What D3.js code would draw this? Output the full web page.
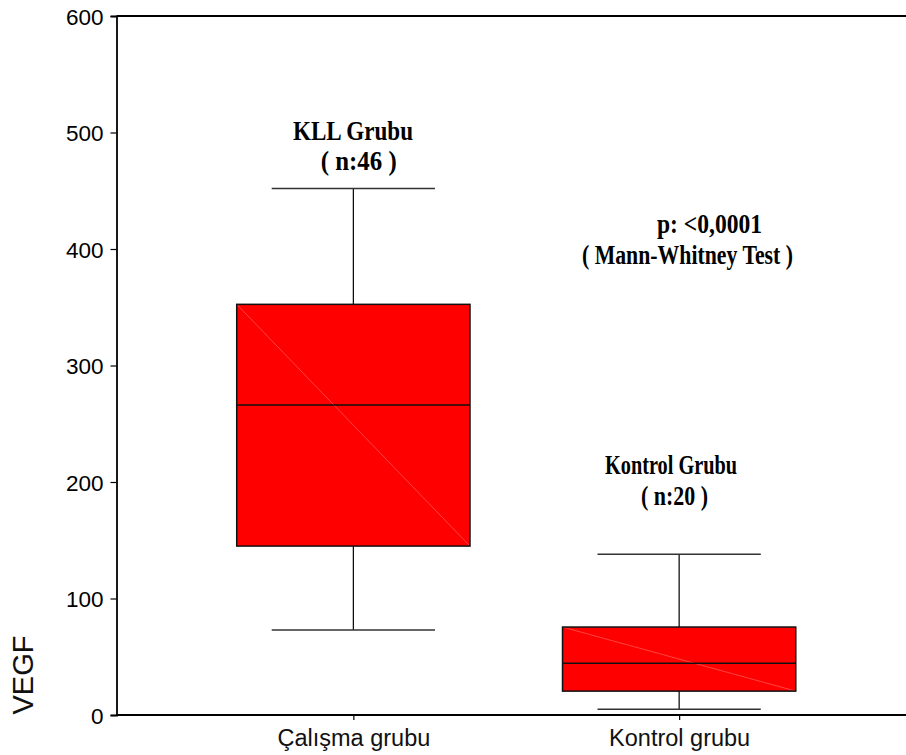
<!DOCTYPE html>
<html>
<head>
<meta charset="utf-8">
<script src="https://cdn.jsdelivr.net/npm/d3@7"></script>
<style>
  html, body { margin: 0; padding: 0; background: #fff; }
  svg { display: block; }
</style>
</head>
<body>
<svg id="chart" width="906" height="755"></svg>
<script>
// ---- data ----
const categories = ["Çalışma grubu", "Kontrol grubu"];
const whiskerMin = [73, 5];
const q1 = [145, 20.5];
const median = [266, 44.5];
const q3 = [352.5, 75.5];
const whiskerMax = [452, 138];
const yTicks = [0, 100, 200, 300, 400, 500, 600];
const groupLabels = [["KLL Grubu", "( n:46 )"], ["Kontrol Grubu", "( n:20 )"]];
const testLabels = ["p: <0,0001", "( Mann-Whitney Test )"];
const yTitle = "VEGF";

// ---- layout ----
const svg = d3.select("#chart");
const x0 = 116.5, yTop = 16, yBot = 715;
const y = d3.scaleLinear().domain([0, 600]).range([yBot, yTop]);
const x = d3.scalePoint().domain(categories).range([x0, 916]).padding(0.727);
const step = x.step();
const boxW = step * 0.716;
const capW = boxW * 0.70;

// boxes
categories.forEach((c, i) => {
  const cx = x(c);
  const g = svg.append("g");
  // whiskers
  g.append("line").attr("x1", cx).attr("x2", cx).attr("y1", y(q3[i])).attr("y2", y(whiskerMax[i]))
    .attr("stroke", "#000").attr("stroke-width", 1.2);
  g.append("line").attr("x1", cx).attr("x2", cx).attr("y1", y(q1[i])).attr("y2", y(whiskerMin[i]))
    .attr("stroke", "#000").attr("stroke-width", 1.2);
  [whiskerMax[i], whiskerMin[i]].forEach(v => {
    g.append("line").attr("x1", cx - capW / 2).attr("x2", cx + capW / 2).attr("y1", y(v)).attr("y2", y(v))
      .attr("stroke", "#333").attr("stroke-width", 1.5);
  });
  // box
  const bx = cx - boxW / 2, by = y(q3[i]), bh = y(q1[i]) - y(q3[i]);
  g.append("rect").attr("x", bx).attr("y", by).attr("width", boxW).attr("height", bh)
    .attr("fill", "#ff0000");
  g.append("line").attr("x1", bx).attr("y1", by).attr("x2", bx + boxW).attr("y2", by + bh)
    .attr("stroke", "#ff7070").attr("stroke-width", 0.6);
  g.append("rect").attr("x", bx).attr("y", by).attr("width", boxW).attr("height", bh)
    .attr("fill", "none").attr("stroke", "#111").attr("stroke-width", 1.5);
  g.append("line").attr("x1", bx).attr("x2", bx + boxW).attr("y1", y(median[i])).attr("y2", y(median[i]))
    .attr("stroke", "#111").attr("stroke-width", 1.5);
});

// axes
const yAxis = d3.axisLeft(y).tickValues(yTicks).tickSize(6).tickPadding(7).tickFormat(d3.format("d"));
const gy = svg.append("g").attr("transform", `translate(${x0},0)`).call(yAxis);
gy.select(".domain").attr("stroke", "#000").attr("stroke-width", 1.8);
gy.selectAll(".tick line").attr("stroke", "#000").attr("stroke-width", 1.2);
gy.selectAll(".tick text").attr("font-family", "Liberation Sans, Arial, sans-serif")
  .attr("font-size", "22.5px").attr("fill", "#000").attr("dy", "0.36em");

const xAxis = d3.axisBottom(x).tickSize(5).tickPadding(8).tickSizeOuter(0);
const gx = svg.append("g").attr("transform", `translate(0,${yBot})`).call(xAxis);
gx.select(".domain").attr("stroke", "#000").attr("stroke-width", 1.8).attr("d", `M${x0},0H906`);
gx.selectAll(".tick line").attr("stroke", "#000").attr("stroke-width", 1.2);
gx.selectAll(".tick text").attr("font-family", "Liberation Sans, Arial, sans-serif")
  .attr("font-size", "23.5px").attr("fill", "#111").attr("dy", "0.78em");

// top border
svg.append("line").attr("x1", x0).attr("x2", 906).attr("y1", yTop).attr("y2", yTop)
  .attr("stroke", "#000").attr("stroke-width", 1.8);

// y title
svg.append("text").attr("transform", `translate(33,${675}) rotate(-90)`)
  .attr("text-anchor", "middle").attr("font-family", "Liberation Sans, Arial, sans-serif")
  .attr("font-size", "29px").attr("fill", "#111").text(yTitle);

// annotations (serif bold, condensed)
function ann(txt, cx, baseY, w) {
  svg.append("text").attr("x", cx - w / 2).attr("y", baseY)
    .attr("font-family", "Liberation Serif, Times New Roman, serif").attr("font-weight", "bold")
    .attr("font-size", "27px").attr("fill", "#000")
    .attr("textLength", w).attr("lengthAdjust", "spacingAndGlyphs").text(txt);
}
ann(groupLabels[0][0], 353, 139.5, 120);
ann(groupLabels[0][1], 358.7, 170, 76);
ann(groupLabels[1][0], 671, 474, 132);
ann(groupLabels[1][1], 674.5, 505, 67);
ann(testLabels[0], 709.5, 233, 105);
ann(testLabels[1], 687.5, 264, 211);
</script>
</body>
</html>
